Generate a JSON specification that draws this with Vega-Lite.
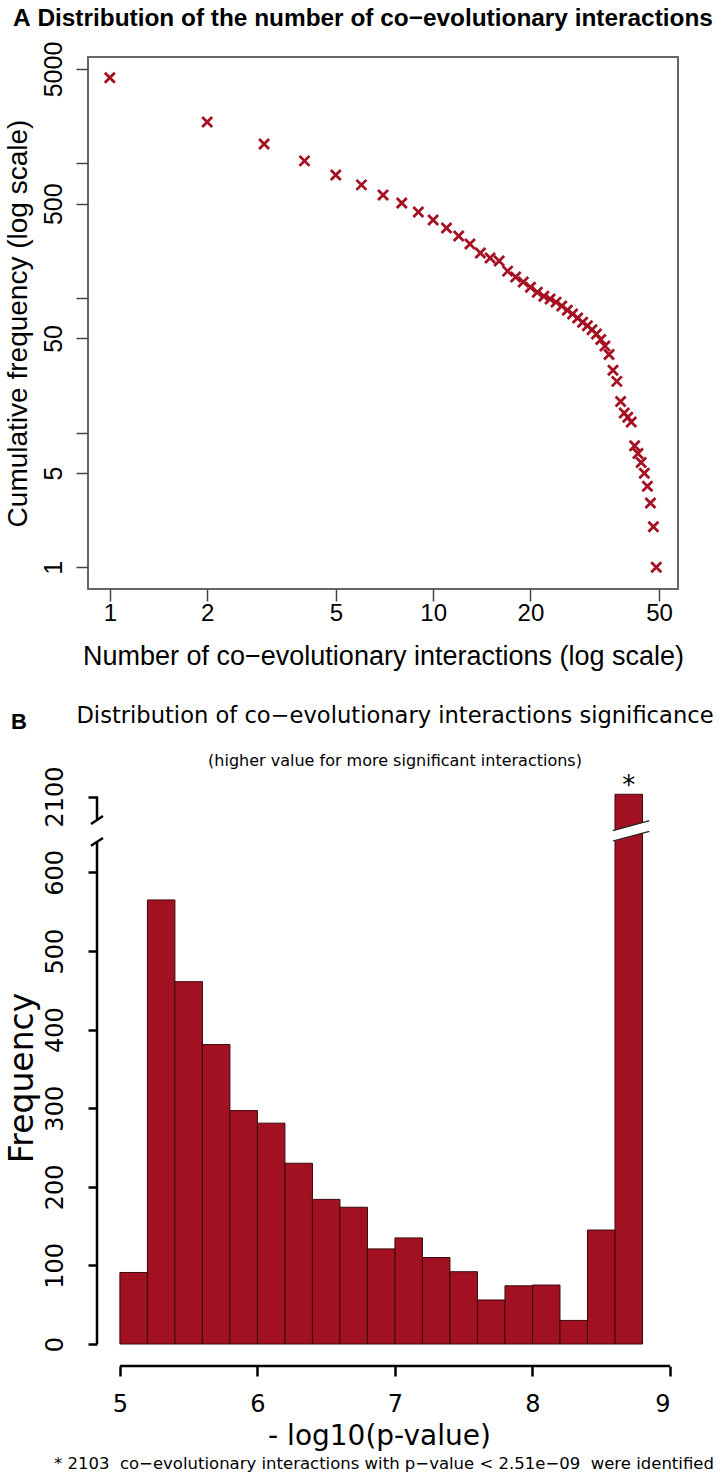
{
  "$schema": "https://vega.github.io/schema/vega-lite/v6.json",
  "background": "white",
  "padding": {"left": 3, "top": 4, "right": 0, "bottom": 0},
  "bounds": "flush",
  "spacing": 200,
  "title": {
    "text": "* 2103\u00a0 co−evolutionary interactions with p−value < 2.51e−09\u00a0 were identified",
    "orient": "bottom", "anchor": "end", "font": "DejaVu Sans", "fontSize": 16.5,
    "fontWeight": "normal", "color": "black", "offset": 6
  },
  "config": {
    "axis": {"grid": false},
    "font": "Liberation Sans"
  },
  "vconcat": [
    {
      "width": 590,
      "height": 532,
      "title": {
        "text": "A\u00a0Distribution of the number of co−evolutionary interactions",
        "anchor": "start", "frame": "group", "font": "Liberation Sans", "fontSize": 24.4,
        "fontWeight": "bold", "color": "black", "offset": 10, "dx": -75
      },
      "view": {"stroke": "#666666", "strokeWidth": 2},
      "data": {"values": [
        {"n": 1, "freq": 4300}, {"n": 2, "freq": 2020}, {"n": 3, "freq": 1390}, {"n": 4, "freq": 1040},
        {"n": 5, "freq": 817}, {"n": 6, "freq": 690}, {"n": 7, "freq": 580}, {"n": 8, "freq": 506},
        {"n": 9, "freq": 434}, {"n": 10, "freq": 378}, {"n": 11, "freq": 330}, {"n": 12, "freq": 288},
        {"n": 13, "freq": 251}, {"n": 14, "freq": 215}, {"n": 15, "freq": 198}, {"n": 16, "freq": 188},
        {"n": 17, "freq": 158}, {"n": 18, "freq": 143}, {"n": 19, "freq": 131}, {"n": 20, "freq": 120},
        {"n": 21, "freq": 110}, {"n": 22, "freq": 103}, {"n": 23, "freq": 98}, {"n": 24, "freq": 93},
        {"n": 25, "freq": 87}, {"n": 26, "freq": 81}, {"n": 27, "freq": 76}, {"n": 28, "freq": 71},
        {"n": 29, "freq": 66}, {"n": 30, "freq": 62}, {"n": 31, "freq": 58}, {"n": 32, "freq": 54},
        {"n": 33, "freq": 49}, {"n": 34, "freq": 44}, {"n": 35, "freq": 38}, {"n": 36, "freq": 29},
        {"n": 37, "freq": 24}, {"n": 38, "freq": 17}, {"n": 39, "freq": 14}, {"n": 40, "freq": 13},
        {"n": 41, "freq": 12}, {"n": 42, "freq": 8}, {"n": 43, "freq": 7}, {"n": 44, "freq": 6},
        {"n": 45, "freq": 5}, {"n": 46, "freq": 4}, {"n": 47, "freq": 3}, {"n": 48, "freq": 2},
        {"n": 49, "freq": 1}
      ]},
      "mark": {
        "type": "point", "shape": "M-1,-1L1,1M1,-1L-1,1", "filled": false,
        "size": 100, "strokeWidth": 2.8, "color": "#A51122", "opacity": 1
      },
      "encoding": {
        "x": {
          "field": "n", "type": "quantitative",
          "scale": {"type": "log", "domain": [0.856, 57.2], "nice": false},
          "axis": {
            "values": [1, 2, 5, 10, 20, 50], "format": "d", "domain": false,
            "tickSize": 12, "tickColor": "#444444", "tickWidth": 1.5,
            "labelFont": "Liberation Sans", "labelFontSize": 24, "labelColor": "black", "labelPadding": 0,
            "title": "Number of co−evolutionary interactions (log scale)",
            "titleFont": "Liberation Sans", "titleFontSize": 27, "titleFontWeight": "normal",
            "titleColor": "black", "titlePadding": 18
          }
        },
        "y": {
          "field": "freq", "type": "quantitative",
          "scale": {"type": "log", "domain": [0.69, 6140], "nice": false},
          "axis": {
            "values": [1, 5, 10, 50, 100, 500, 1000, 5000], "format": "d",
            "labelExpr": "datum.value == 10 || datum.value == 100 || datum.value == 1000 ? '' : datum.label",
            "domain": false, "tickSize": 12, "tickColor": "#444444", "tickWidth": 1.5,
            "labelAngle": 270, "labelAlign": "center", "labelBaseline": "bottom",
            "labelFont": "Liberation Sans", "labelFontSize": 25, "labelColor": "black", "labelPadding": 10,
            "title": "Cumulative frequency (log scale)",
            "titleFont": "Liberation Sans", "titleFontSize": 28, "titleFontWeight": "normal",
            "titleColor": "black", "titlePadding": 9
          }
        }
      }
    },
    {
      "width": 582,
      "height": 577,
      "title": {
        "text": "Distribution of co−evolutionary interactions significance",
        "subtitle": "(higher value for more significant interactions)",
        "anchor": "middle", "font": "DejaVu Sans", "fontSize": 22.6, "fontWeight": "normal",
        "color": "black", "subtitleFont": "DejaVu Sans", "subtitleFontSize": 16,
        "subtitleColor": "black", "subtitlePadding": 26, "offset": 0, "dx": 16, "dy": 58
      },
      "view": {"stroke": null},
      "layer": [
        {
          "data": {"values": [
            {"lo": 5.0, "hi": 5.2, "count": 91}, {"lo": 5.2, "hi": 5.4, "count": 565},
            {"lo": 5.4, "hi": 5.6, "count": 461}, {"lo": 5.6, "hi": 5.8, "count": 381},
            {"lo": 5.8, "hi": 6.0, "count": 297}, {"lo": 6.0, "hi": 6.2, "count": 281},
            {"lo": 6.2, "hi": 6.4, "count": 230}, {"lo": 6.4, "hi": 6.6, "count": 184},
            {"lo": 6.6, "hi": 6.8, "count": 174}, {"lo": 6.8, "hi": 7.0, "count": 121},
            {"lo": 7.0, "hi": 7.2, "count": 135}, {"lo": 7.2, "hi": 7.4, "count": 110},
            {"lo": 7.4, "hi": 7.6, "count": 92}, {"lo": 7.6, "hi": 7.8, "count": 56},
            {"lo": 7.8, "hi": 8.0, "count": 74}, {"lo": 8.0, "hi": 8.2, "count": 75},
            {"lo": 8.2, "hi": 8.4, "count": 30}, {"lo": 8.4, "hi": 8.6, "count": 145},
            {"lo": 8.6, "hi": 8.8, "count": 2103}
          ]},
          "mark": {"type": "bar", "fill": "#A11121", "stroke": "#3a080c", "strokeWidth": 1},
          "encoding": {
            "x": {
              "field": "lo", "type": "quantitative",
              "scale": {"domain": [4.768, 9], "nice": false, "zero": false},
              "axis": {
                "values": [5, 6, 7, 8, 9], "format": "d", "domain": false, "tickSize": 10, "tickWidth": 2.5,
                "tickColor": "black", "labelFont": "DejaVu Sans", "labelFontSize": 24,
                "labelColor": "black", "labelPadding": 16,
                "title": "- log10(p-value)", "titleFont": "DejaVu Sans", "titleFontSize": 28,
                "titleFontWeight": "normal", "titleColor": "black", "titlePadding": 6
              }
            },
            "x2": {"field": "hi"},
            "y": {
              "field": "count", "type": "quantitative",
              "scale": {"domain": [-28, 0, 640, 2070, 2110], "range": [577, 555, 52, 30, 0], "nice": false, "zero": false},
              "axis": {
                "values": [0, 100, 200, 300, 400, 500, 600, 2100], "format": "d", "domain": false, "offset": -9,
                "tickSize": 9, "tickWidth": 2.5, "tickColor": "black",
                "labelAngle": 270, "labelAlign": "center", "labelBaseline": "bottom",
                "labelFont": "DejaVu Sans", "labelFontSize": 24, "labelColor": "black", "labelPadding": 21,
                "title": "Frequency", "titleFont": "DejaVu Sans", "titleFontSize": 33,
                "titleFontWeight": "normal", "titleColor": "black", "titlePadding": 4
              }
            },
            "y2": {"datum": 0}
          }
        },
        {
          "data": {"values": [
            {"x": 4.8335, "x2": 4.8335, "y": 0, "y2": 640},
            {"x": 4.8335, "x2": 4.8335, "y": 2070, "y2": 2100},
            {"x": 5, "x2": 9, "y": -28, "y2": -28},
            {"x": 4.79, "x2": 4.877, "y": 634, "y2": 835},
            {"x": 4.79, "x2": 4.877, "y": 1745, "y2": 2074}
          ]},
          "mark": {"type": "rule", "color": "black", "strokeWidth": 2.5},
          "encoding": {
            "x": {"field": "x", "type": "quantitative"},
            "x2": {"field": "x2"},
            "y": {"field": "y", "type": "quantitative"},
            "y2": {"field": "y2"}
          }
        },
        {
          "data": {"values": [{"x": 8.584, "x2": 8.85, "y": 965, "y2": 1615}]},
          "mark": {"type": "rule", "color": "white", "strokeWidth": 10},
          "encoding": {
            "x": {"field": "x", "type": "quantitative"},
            "x2": {"field": "x2"},
            "y": {"field": "y", "type": "quantitative"},
            "y2": {"field": "y2"}
          }
        },
        {
          "data": {"values": [
            {"x": 8.584, "x2": 8.85, "y": 640, "y2": 1270},
            {"x": 8.584, "x2": 8.85, "y": 1310, "y2": 1960}
          ]},
          "mark": {"type": "rule", "color": "#222222", "strokeWidth": 1.2},
          "encoding": {
            "x": {"field": "x", "type": "quantitative"},
            "x2": {"field": "x2"},
            "y": {"field": "y", "type": "quantitative"},
            "y2": {"field": "y2"}
          }
        },
        {
          "data": {"values": [{"label": "*", "x": 8.7, "y": 2103}]},
          "mark": {"type": "text", "font": "DejaVu Sans", "fontSize": 26, "baseline": "alphabetic", "align": "center", "color": "black"},
          "encoding": {
            "x": {"field": "x", "type": "quantitative"},
            "y": {"field": "y", "type": "quantitative"},
            "text": {"field": "label"}
          }
        },
        {
          "data": {"values": [{"label": "B", "x": 4.266, "y": 2199}]},
          "mark": {"type": "text", "font": "Liberation Sans", "fontSize": 22, "fontWeight": "bold", "baseline": "middle", "align": "center", "color": "black"},
          "encoding": {
            "x": {"field": "x", "type": "quantitative"},
            "y": {"field": "y", "type": "quantitative"},
            "text": {"field": "label"}
          }
        }
      ]
    }
  ]
}
